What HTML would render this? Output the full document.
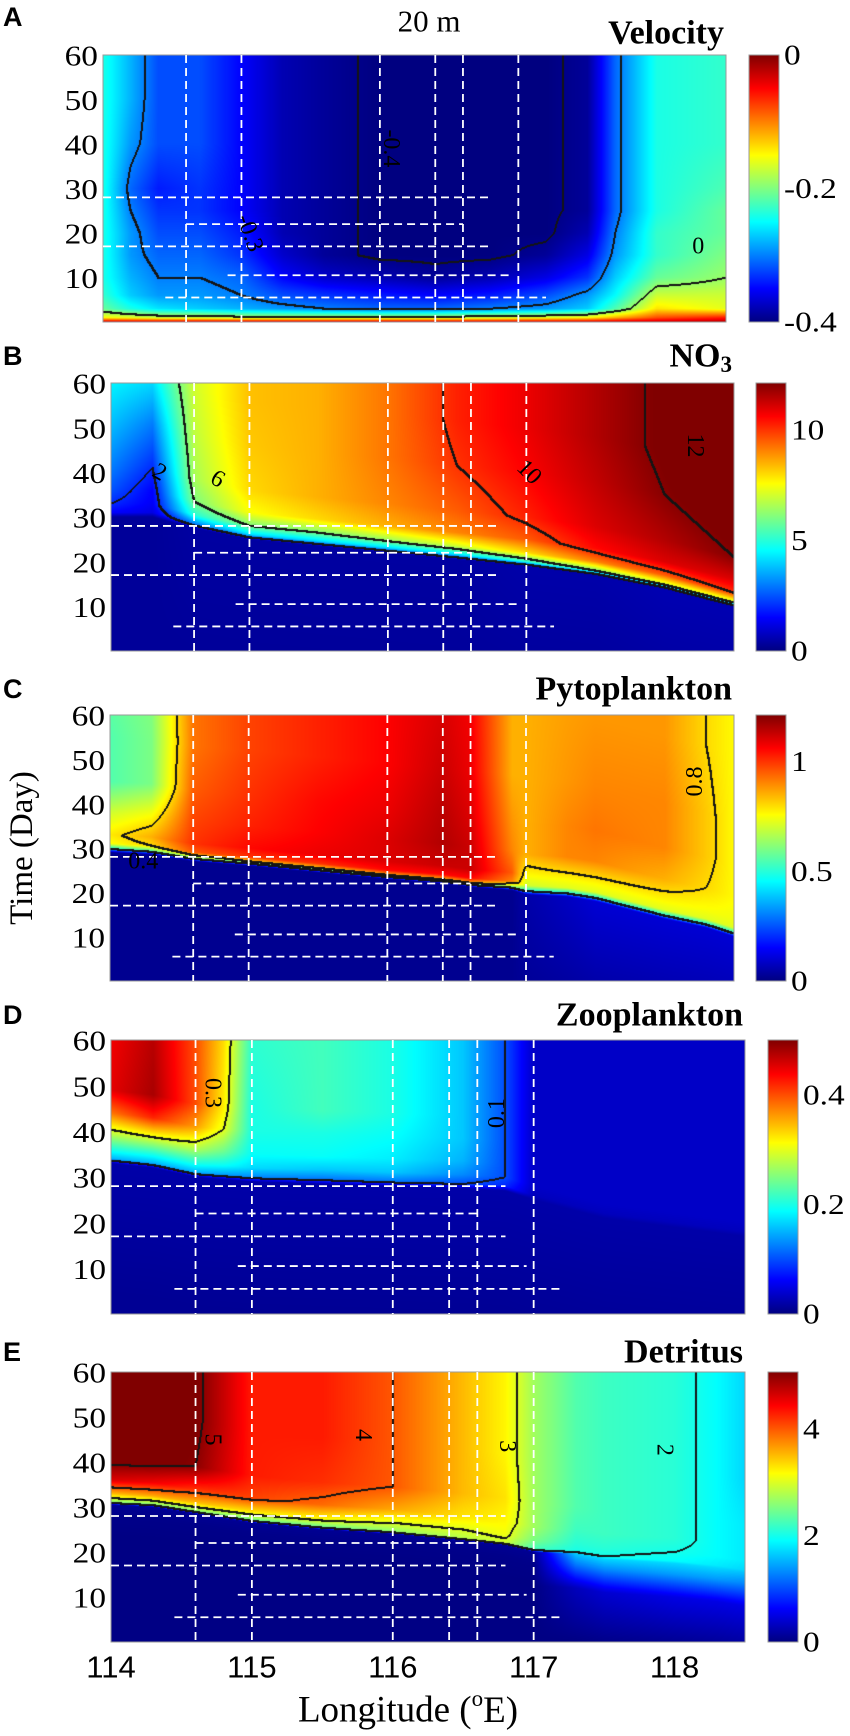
<!DOCTYPE html>
<html><head><meta charset="utf-8">
<style>
html,body{margin:0;padding:0;background:#fff;}
body{width:850px;height:1736px;position:relative;overflow:hidden;font-family:"Liberation Serif",serif;}
canvas{position:absolute;}
svg{position:absolute;left:0;top:0;}
</style></head>
<body>
<div id="root"></div>
<svg id="ov" width="850" height="1736"></svg>
<script>
// ---------- DATA ----------
const aLons=[114,114.2,114.4,114.7,115,115.3,115.6,116,116.4,116.8,117.2,117.5,117.7,118,118.5];
const aFront=[0,0,0,0,0,0,0,0,0,0,0,0,0,0,0];
const aRel=[0,1,3,6,10,15,20,25,30,40,50,60];
const aGrid=[
[-0.03,-0.03,-0.03,-0.03,-0.03,-0.03,-0.03,-0.03,-0.03,-0.03,-0.03,-0.03,-0.03,-0.03,-0.02],
[-0.15,-0.16,-0.17,-0.17,-0.18,-0.18,-0.18,-0.18,-0.18,-0.17,-0.16,-0.15,-0.12,-0.08,-0.06],
[-0.21,-0.24,-0.26,-0.27,-0.28,-0.29,-0.30,-0.31,-0.31,-0.30,-0.29,-0.27,-0.22,-0.14,-0.16],
[-0.23,-0.27,-0.29,-0.29,-0.30,-0.32,-0.33,-0.34,-0.35,-0.34,-0.32,-0.29,-0.25,-0.17,-0.17],
[-0.24,-0.28,-0.30,-0.30,-0.31,-0.35,-0.37,-0.38,-0.39,-0.38,-0.36,-0.33,-0.27,-0.21,-0.19],
[-0.24,-0.29,-0.31,-0.31,-0.33,-0.37,-0.39,-0.40,-0.40,-0.40,-0.39,-0.36,-0.29,-0.23,-0.20],
[-0.24,-0.29,-0.32,-0.32,-0.34,-0.38,-0.39,-0.40,-0.40,-0.40,-0.40,-0.38,-0.30,-0.23,-0.21],
[-0.24,-0.30,-0.33,-0.33,-0.35,-0.38,-0.39,-0.40,-0.40,-0.40,-0.40,-0.39,-0.31,-0.24,-0.21],
[-0.24,-0.31,-0.34,-0.33,-0.35,-0.38,-0.39,-0.40,-0.40,-0.40,-0.40,-0.39,-0.31,-0.24,-0.22],
[-0.24,-0.29,-0.32,-0.32,-0.35,-0.38,-0.39,-0.40,-0.40,-0.40,-0.40,-0.39,-0.31,-0.24,-0.23],
[-0.24,-0.28,-0.32,-0.32,-0.35,-0.38,-0.39,-0.40,-0.40,-0.40,-0.40,-0.39,-0.31,-0.24,-0.23],
[-0.24,-0.28,-0.32,-0.32,-0.35,-0.38,-0.39,-0.40,-0.40,-0.40,-0.40,-0.39,-0.31,-0.24,-0.23]];
const aLevels=[-0.3,-0.396,-0.19];

const bLons=[114,114.3,114.6,115,115.5,116,116.5,117,117.5,118,118.5];
const bFront=[31,31,28.5,26,24.5,23,21.5,20,18,15,11];
const bRel=[-30,-1,0,2,5,10,20,30,50];
const bGrid=[
[0.3,0.3,0.3,0.3,0.3,0.3,0.3,0.3,0.3,0.3,0.3],
[0.3,0.3,0.4,0.4,0.4,0.4,0.4,0.5,0.5,0.6,0.6],
[1.5,1.2,3,4,4,4,4,5,6,7,7],
[2,1.4,5,6,6,6.5,7,8,9,9.5,10],
[2.5,1.5,6,7.5,8,8.5,9,9.5,10.5,11,11],
[3,2,6.5,8,8.5,9,9.5,10.2,11,11.5,12],
[3.8,3,6.8,8.2,8.5,9.2,10,10.6,11.3,12,12.5],
[4.5,4.2,7,8.3,8.5,9.2,10.2,10.8,11.5,12.2,12.8],
[4.6,4.4,7,8.3,8.5,9.2,10.2,10.8,11.5,12.2,12.8]];
const bLevels=[2,6,10,12];

const cLons=[114,114.3,114.6,115,115.5,116,116.4,116.6,116.9,117,117.3,117.5,118,118.3,118.5];
const cFront=[30,29.5,28,27,25.5,24,23,22.2,21.5,20.5,20,19,15,13,11];
const cRel=[-30,-1,0,1,3,8,15,25,40];
const cGrid=[
[0.02,0.02,0.02,0.02,0.02,0.02,0.02,0.02,0.02,0.02,0.02,0.02,0.02,0.02,0.02],
[0.02,0.02,0.02,0.02,0.02,0.02,0.02,0.02,0.02,0.05,0.08,0.1,0.1,0.1,0.1],
[0.5,0.6,0.7,0.8,0.8,0.85,0.85,0.85,0.7,0.5,0.5,0.5,0.5,0.5,0.5],
[0.75,0.8,0.95,1.0,1.0,1.05,1.05,1.05,0.9,0.7,0.72,0.72,0.72,0.72,0.72],
[0.78,0.85,1.0,1.05,1.08,1.1,1.12,1.12,0.95,0.75,0.76,0.76,0.76,0.75,0.74],
[0.7,0.75,0.98,1.02,1.06,1.1,1.15,1.12,0.9,0.85,0.9,0.9,0.85,0.8,0.76],
[0.55,0.6,0.95,1.0,1.05,1.08,1.14,1.1,0.88,0.85,0.9,0.92,0.9,0.82,0.76],
[0.55,0.6,0.92,0.98,1.02,1.06,1.12,1.08,0.85,0.85,0.88,0.9,0.9,0.82,0.76],
[0.58,0.62,0.92,0.98,1.02,1.06,1.1,1.07,0.85,0.85,0.87,0.88,0.88,0.8,0.76]];
const cLevels=[0.4,0.8];

const dLons=[114,114.3,114.6,114.8,115,115.5,116,116.5,116.8,117,117.5,118.5];
const dFront=[34,33,31,30.5,30,29.5,29,28.5,28,26,22,18];
const dRel=[-30,-1,0,2,5,10,15,30];
const dGrid=[
[0.01,0.01,0.01,0.01,0.01,0.01,0.01,0.01,0.01,0.01,0.01,0.01],
[0.02,0.02,0.02,0.02,0.02,0.02,0.02,0.02,0.02,0.02,0.02,0.02],
[0.15,0.15,0.15,0.14,0.13,0.12,0.12,0.1,0.08,0.03,0.03,0.03],
[0.2,0.2,0.2,0.19,0.17,0.16,0.16,0.13,0.1,0.035,0.035,0.035],
[0.27,0.28,0.27,0.24,0.19,0.19,0.18,0.15,0.1,0.035,0.035,0.035],
[0.38,0.42,0.36,0.30,0.2,0.2,0.19,0.16,0.1,0.035,0.035,0.035],
[0.45,0.48,0.4,0.32,0.2,0.22,0.2,0.16,0.1,0.035,0.035,0.035],
[0.44,0.47,0.4,0.33,0.21,0.22,0.2,0.16,0.1,0.035,0.035,0.035]];
const dLevels=[0.1,0.3];

const eLons=[114,114.3,114.6,115,115.5,116,116.5,116.8,117,117.3,117.5,118,118.3,118.5];
const eFront=[31,30.5,29,27,25.5,24.5,23,22,20.5,20,19,18,17,16];
const eRel=[-20,-8,-3,-0.5,0,2,5,10,20,35];
const eGrid=[
[0.02,0.02,0.02,0.02,0.02,0.02,0.02,0.02,0.02,0.02,0.02,0.02,0.02,0.02],
[0.02,0.02,0.02,0.02,0.02,0.02,0.02,0.02,0.02,0.3,0.4,0.5,0.5,0.5],
[0.05,0.05,0.05,0.05,0.05,0.05,0.05,0.05,0.05,1.2,1.3,1.4,1.4,1.3],
[0.1,0.1,0.1,0.1,0.1,0.1,0.1,0.1,0.1,1.6,1.7,1.7,1.7,1.6],
[2.5,2.5,2.5,2.4,2.4,2.6,2.8,2.9,2.2,2.0,2.0,1.9,1.8,1.7],
[3.5,3.6,3.5,3.3,3.2,3.0,3.0,3.1,2.5,2.1,2.1,2.0,1.9,1.8],
[4.6,4.5,4.2,4.1,3.9,3.6,3.3,3.2,2.7,2.2,2.2,2.1,1.9,1.8],
[5.2,5.2,5.0,4.3,4.2,4.0,3.5,3.3,2.7,2.3,2.2,2.1,1.9,1.8],
[5.3,5.3,5.1,4.3,4.3,4.0,3.5,3.2,2.7,2.3,2.2,2.1,1.9,1.7],
[5.3,5.3,5.1,4.3,4.3,4.0,3.5,3.2,2.7,2.3,2.2,2.1,1.9,1.7]];
const eLevels=[2,3,4,5];

const yTicks=[10,20,30,40,50,60];
const xTicks=[114,115,116,117,118];
const vLineLons=[114.6,115,116,116.4,116.6,117];
const hLineDays=[28,22,17,10.5,5.5];
const hLineStart=[114,114.6,114,114.9,114.45];
const hLineEnd=[116.8,116.6,116.8,116.95,117.2];
const aCbTicks=[0,-0.2,-0.4], bCbTicks=[0,5,10], cCbTicks=[0,0.5,1], dCbTicks=[0,0.2,0.4], eCbTicks=[0,2,4];
const aLabels=[[116.08,39,"-0.4",90],[115.06,20,"-0.3",70],[118.3,17,"0",0]];
const bLabels=[[114.35,40,"2",30],[114.77,38.5,"6",30],[117.02,40,"10",45],[118.22,46,"12",90]];
const cLabels=[[114.24,27,"0.4",0],[118.22,45,"0.8",-90]];
const dLabels=[[114.72,48.4,"0.3",90],[116.74,44,"0.1",-90]];
const eLabels=[[114.72,45,"5",90],[115.79,46,"4",90],[116.81,43.5,"3",90],[117.93,42.7,"2",90]];

// ---------- LAYOUT ----------
const panels=[
 {id:"a",letter:"A",title:"Velocity",lons:aLons,front:aFront,rel:aRel,grid:aGrid,levels:aLevels,vmin:-0.4,vmax:0,cb:aCbTicks,labels:aLabels,x:103,y:55,w:623,h:267,cbx:749,ly:17,ty:33},
 {id:"b",letter:"B",title:"NO3",lons:bLons,front:bFront,rel:bRel,grid:bGrid,levels:bLevels,vmin:0,vmax:12.1,cb:bCbTicks,labels:bLabels,x:111,y:383,w:623,h:268,cbx:756,ly:356,ty:356},
 {id:"c",letter:"C",title:"Pytoplankton",lons:cLons,front:cFront,rel:cRel,grid:cGrid,levels:cLevels,vmin:0,vmax:1.21,cb:cCbTicks,labels:cLabels,x:110,y:715,w:624,h:266,cbx:756,ly:689,ty:689},
 {id:"d",letter:"D",title:"Zooplankton",lons:dLons,front:dFront,rel:dRel,grid:dGrid,levels:dLevels,vmin:0,vmax:0.5,cb:dCbTicks,labels:dLabels,x:111,y:1040,w:634,h:274,cbx:768,ly:1015,ty:1015},
 {id:"e",letter:"E",title:"Detritus",lons:eLons,front:eFront,rel:eRel,grid:eGrid,levels:eLevels,vmin:0,vmax:5.06,cb:eCbTicks,labels:eLabels,x:111,y:1372,w:634,h:270,cbx:768,ly:1352,ty:1352}
];
const LON0=114, LON1=118.5, D0=0, D1=60;

function jet(t){t=Math.max(0,Math.min(1,t));const c=v=>Math.round(255*Math.max(0,Math.min(1,v)));
 return [c(1.5-Math.abs(4*t-3)),c(1.5-Math.abs(4*t-2)),c(1.5-Math.abs(4*t-1))];}
function seg(xs,x){const n=xs.length;if(x<=xs[0])return[0,0];if(x>=xs[n-1])return[n-2,1];
 let i=0;while(x>=xs[i+1])i++;return[i,(x-xs[i])/(xs[i+1]-xs[i])];}
function field(p,lon,day){const[i,t]=seg(p.lons,lon);const f=p.front[i]*(1-t)+p.front[i+1]*t;
 const[j,u]=seg(p.rel,day-f);const g=p.grid;
 const v0=g[j][i]*(1-t)+g[j][i+1]*t, v1=g[j+1][i]*(1-t)+g[j+1][i+1]*t;return v0*(1-u)+v1*u;}

const NS="http://www.w3.org/2000/svg";const ov=document.getElementById('ov');
function mk(tag,attrs,parent){const e=document.createElementNS(NS,tag);for(const k in attrs)e.setAttribute(k,attrs[k]);(parent||ov).appendChild(e);return e;}

panels.forEach(p=>{
 const xs=lon=>p.x+(lon-LON0)/(LON1-LON0)*p.w;
 const ys=d=>p.y+(D1-d)/(D1-D0)*p.h;
 const cv=document.createElement('canvas');cv.width=p.w;cv.height=p.h;
 cv.style.left=p.x+'px';cv.style.top=p.y+'px';
 
 
 document.body.insertBefore(cv,ov);
 const ctx=cv.getContext('2d');const img=ctx.createImageData(p.w,p.h);
 const F=new Float32Array(p.w*p.h);
 for(let r=0;r<p.h;r++){const day=D1-(r+0.5)/p.h*(D1-D0);
  for(let c=0;c<p.w;c++){const lon=LON0+(c+0.5)/p.w*(LON1-LON0);F[r*p.w+c]=field(p,lon,day);}}
 const M=new Uint8Array(p.w*p.h);
 for(let r=0;r<p.h;r++)for(let c=0;c<p.w;c++){const k=r*p.w+c,v=F[k];
  const vr=c<p.w-1?F[k+1]:v, vd=r<p.h-1?F[k+p.w]:v;
  for(const L of p.levels){if(((v-L)*(vr-L)<0)||((v-L)*(vd-L)<0)){M[k]=1;if(c<p.w-1)M[k+1]=1;if(r<p.h-1)M[k+p.w]=1;break;}}}
 for(let k=0;k<p.w*p.h;k++){let col=M[k]?[20,20,20]:jet((F[k]-p.vmin)/(p.vmax-p.vmin));
  img.data[4*k]=col[0];img.data[4*k+1]=col[1];img.data[4*k+2]=col[2];img.data[4*k+3]=255;}
 ctx.putImageData(img,0,0);
 const fr=mk('rect',{x:p.x,y:p.y,width:p.w,height:p.h,fill:'none',stroke:'#9a9a9a','stroke-width':1});
 
 
 vLineLons.forEach(l=>{const ln=mk('line',{x1:xs(l),x2:xs(l),y1:p.y,y2:p.y+p.h,stroke:'#fff','stroke-width':1.8,'stroke-dasharray':'8 5'});
  
  });
 hLineDays.forEach((d,i)=>{const ln=mk('line',{x1:xs(hLineStart[i]),x2:xs(hLineEnd[i]),y1:ys(d),y2:ys(d),stroke:'#fff','stroke-width':1.8,'stroke-dasharray':'8 5'});
  
  });
 p.labels.forEach(L=>{const tx=mk('text',{x:xs(L[0]),y:ys(L[1]),'font-size':24,'text-anchor':'middle','dominant-baseline':'central','font-family':'Liberation Serif, serif',transform:`rotate(${L[3]} ${xs(L[0])} ${ys(L[1])})`});
  tx.textContent=L[2];
  
  });
 yTicks.forEach(d=>{const tx=mk('text',{x:p.x-5,y:ys(d)+1,'font-size':29,'text-anchor':'end','dominant-baseline':'central','font-family':'Liberation Serif, serif',transform:`translate(${p.x-5} 0) scale(1.15 1) translate(${-(p.x-5)} 0)`});
  tx.textContent=d;
  
  });
 const gid='g'+p.id;const defs=mk('defs',{});const lg=mk('linearGradient',{id:gid,x1:0,y1:1,x2:0,y2:0},defs);
 for(let s=0;s<=16;s++){const c=jet(s/16);mk('stop',{offset:s/16,'stop-color':`rgb(${c})`},lg);}
 const cb=mk('rect',{x:p.cbx,y:p.y,width:30,height:p.h,fill:`url(#${gid})`,stroke:'#9a9a9a','stroke-width':1});
 
 
 p.cb.forEach(v=>{const yy=p.y+(p.vmax-v)/(p.vmax-p.vmin)*p.h;const tx=mk('text',{x:p.cbx+35,y:Math.min(yy,p.y+p.h+4),'font-size':29,'dominant-baseline':'central','font-family':'Liberation Serif, serif',transform:`translate(${p.cbx+35} 0) scale(1.15 1) translate(${-(p.cbx+35)} 0)`});
  tx.textContent=v;
  
  });
 const lt=mk('text',{x:3,y:p.ly,'font-size':27,'font-weight':'bold','dominant-baseline':'central','font-family':'Liberation Sans, sans-serif'});
 lt.textContent=p.letter;
 
 
 const tt=mk('text',{x:p.x+p.w-2,y:p.ty,'font-size':34,'font-weight':'bold','text-anchor':'end','dominant-baseline':'central','font-family':'Liberation Serif, serif'});
 if(p.title==="NO3"){tt.textContent="NO";const sub=mk('tspan',{'font-size':23,dy:8},tt);sub.textContent="3";}
 else tt.textContent=p.title;
 
 
 if(p.id==="e"){
  xTicks.forEach(l=>{const tx=mk('text',{x:xs(l),y:1667,'font-size':31,'text-anchor':'middle','dominant-baseline':'central','font-family':'Liberation Sans, sans-serif'});
   tx.textContent=l;
   
   });
 }
});
const t1=mk('text',{x:429,y:21,'font-size':31,'text-anchor':'middle','dominant-baseline':'central','font-family':'Liberation Serif, serif'});
t1.textContent="20 m";


const xl=mk('text',{x:408,y:1710,'font-size':37,'text-anchor':'middle','dominant-baseline':'central','font-family':'Liberation Serif, serif'});
xl.textContent="Longitude (";
const sup=mk('tspan',{'font-size':23,dy:-12},xl);sup.textContent="o";
const rest=mk('tspan',{dy:12},xl);rest.textContent="E)";


const yl=mk('text',{x:22,y:848,'font-size':33,'text-anchor':'middle','dominant-baseline':'central','font-family':'Liberation Serif, serif',transform:'rotate(-90 22 848)'});
yl.textContent="Time (Day)";


</script>
</body></html>
